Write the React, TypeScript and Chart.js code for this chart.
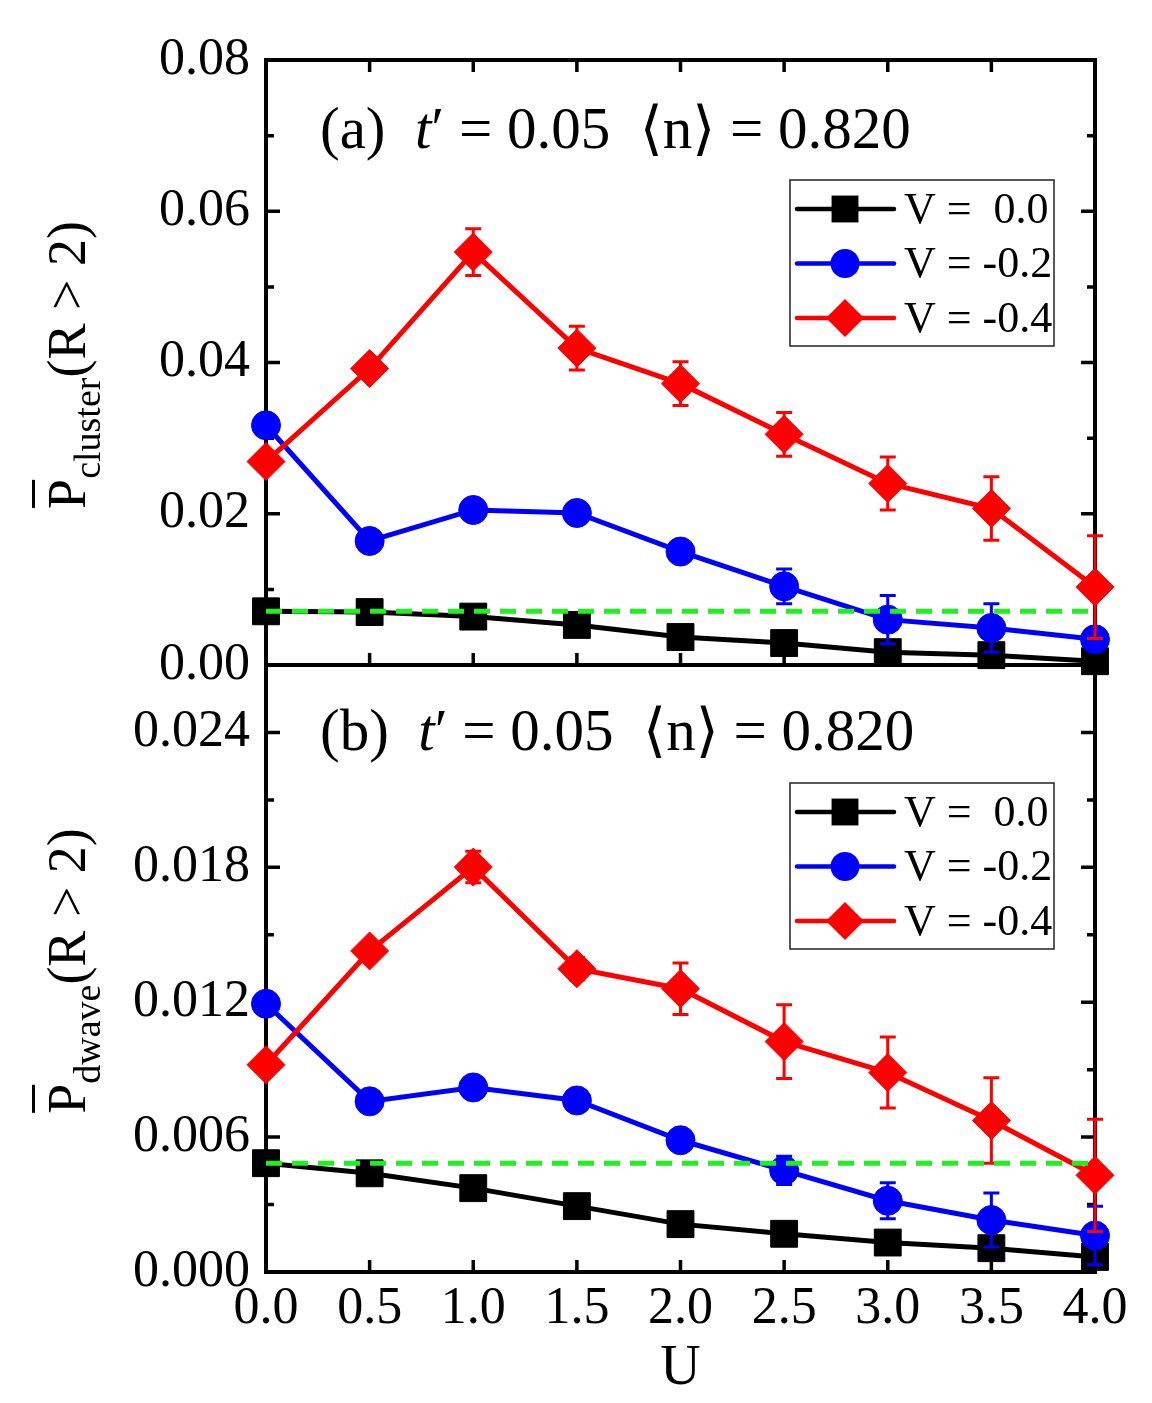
import React, { useEffect, useRef } from 'react';
import { Chart, registerables } from 'chart.js';

Chart.register(...registerables);

// ---------------- data ----------------
const U = [0, 0.5, 1.0, 1.5, 2.0, 2.5, 3.0, 3.5, 4.0];
const U_TICKS = [0, 0.5, 1.0, 1.5, 2.0, 2.5, 3.0, 3.5, 4.0];
const SERIES_NAMES = ['V =  0.0', 'V = -0.2', 'V = -0.4'];

// panel (a): P_cluster(R > 2)
const CLUSTER_V00 = [0.0071, 0.0070, 0.0064, 0.0053, 0.0037, 0.0029, 0.0017, 0.0013, 0.0005];
const CLUSTER_V00_ERR = [0.0012, 0.0012, 0.0012, 0.0012, 0.0012, 0.0012, 0.0012, 0.0012, 0.0012];
const CLUSTER_V02 = [0.0317, 0.0164, 0.0205, 0.0201, 0.0150, 0.0104, 0.0060, 0.0049, 0.0034];
const CLUSTER_V02_ERR = [0.0008, 0.0008, 0.0008, 0.0008, 0.0010, 0.0023, 0.0032, 0.0032, 0.0013];
const CLUSTER_V04 = [0.0269, 0.0392, 0.0546, 0.0419, 0.0372, 0.0305, 0.0240, 0.0207, 0.0103];
const CLUSTER_V04_ERR = [0.0008, 0.0008, 0.0031, 0.0029, 0.0029, 0.0029, 0.0035, 0.0042, 0.0068];
const CLUSTER_REF = 0.0071;
const CLUSTER_Y_TICKS = [0, 0.02, 0.04, 0.06, 0.08];

// panel (b): P_dwave(R > 2)
const DWAVE_V00 = [0.00484, 0.00439, 0.00373, 0.00293, 0.00213, 0.00170, 0.00131, 0.00106, 0.00067];
const DWAVE_V00_ERR = [0.0004, 0.0004, 0.0004, 0.0004, 0.0004, 0.0004, 0.0004, 0.0004, 0.0004];
const DWAVE_V02 = [0.01193, 0.00759, 0.00821, 0.00763, 0.00586, 0.00452, 0.00317, 0.00231, 0.00162];
const DWAVE_V02_ERR = [0.0002, 0.0002, 0.0002, 0.0002, 0.0003, 0.00063, 0.0008, 0.0012, 0.0013];
const DWAVE_V04 = [0.00922, 0.01428, 0.01801, 0.01349, 0.01260, 0.01025, 0.00887, 0.00674, 0.00430];
const DWAVE_V04_ERR = [0.0002, 0.0003, 0.0007, 0.0005, 0.00115, 0.00164, 0.00158, 0.0019, 0.0025];
const DWAVE_REF = 0.00484;
const DWAVE_Y_TICKS = [0, 0.006, 0.012, 0.018, 0.024];

// ---------------- style ----------------
const FONT = "'Liberation Serif', 'DejaVu Serif', serif";
const BLACK = '#000000';
const BLUE = '#0000ff';
const RED = '#ff0000';
const GREEN = '#22ee22';

function drawMarker(ctx: CanvasRenderingContext2D, style: string, x: number, y: number, r: number, color: string) {
  ctx.save();
  ctx.fillStyle = color;
  ctx.beginPath();
  if (style === 'rect') {
    const h = r * Math.SQRT1_2;
    ctx.rect(x - h, y - h, 2 * h, 2 * h);
  } else if (style === 'circle') {
    ctx.arc(x, y, r, 0, Math.PI * 2);
  } else {
    ctx.moveTo(x, y - r);
    ctx.lineTo(x + r, y);
    ctx.lineTo(x, y + r);
    ctx.lineTo(x - r, y);
    ctx.closePath();
  }
  ctx.fill();
  ctx.restore();
}

const errorBarPlugin = {
  id: 'errbars',
  beforeDatasetDraw(chart: any, args: any) {
    const ds = chart.data.datasets[args.index];
    if (!ds.errors) return;
    const ys = chart.scales.y;
    const ctx = chart.ctx as CanvasRenderingContext2D;
    ctx.save();
    ctx.strokeStyle = ds.borderColor;
    ctx.lineWidth = 3;
    ctx.beginPath();
    args.meta.data.forEach((pt: any, i: number) => {
      const e = ds.errors[i];
      const v = ds.data[i].y;
      const y1 = ys.getPixelForValue(v + e);
      const y2 = ys.getPixelForValue(v - e);
      ctx.moveTo(pt.x, y1);
      ctx.lineTo(pt.x, y2);
      ctx.moveTo(pt.x - 8, y1);
      ctx.lineTo(pt.x + 8, y1);
      ctx.moveTo(pt.x - 8, y2);
      ctx.lineTo(pt.x + 8, y2);
    });
    ctx.stroke();
    ctx.restore();
  },
};

const decorPlugin = {
  id: 'decor',
  beforeDatasetsDraw(chart: any, _a: any, o: any) {
    const ctx = chart.ctx as CanvasRenderingContext2D;
    const a = chart.chartArea;
    const xs = chart.scales.x;
    const ys = chart.scales.y;
    ctx.save();
    ctx.strokeStyle = '#000';
    ctx.lineWidth = 4;
    ctx.strokeRect(a.left, a.top, a.right - a.left, a.bottom - a.top);
    ctx.lineWidth = 3.5;
    ctx.beginPath();
    const majors: number[] = o.yTicks;
    const half = (majors[1] - majors[0]) / 2;
    const marks: { v: number; len: number }[] = [];
    majors.forEach((v) => {
      marks.push({ v, len: 14 });
      marks.push({ v: v + half, len: 8 });
    });
    for (const m of marks) {
      const py = ys.getPixelForValue(m.v);
      if (py <= a.top + 2 || py >= a.bottom - 2) continue;
      ctx.moveTo(a.left, py);
      ctx.lineTo(a.left + m.len, py);
      ctx.moveTo(a.right, py);
      ctx.lineTo(a.right - m.len, py);
    }
    for (const v of U_TICKS) {
      const px = xs.getPixelForValue(v);
      if (px <= a.left + 2 || px >= a.right - 2) continue;
      ctx.moveTo(px, a.bottom);
      ctx.lineTo(px, a.bottom - 12);
      if (o.topTicks) {
        ctx.moveTo(px, a.top);
        ctx.lineTo(px, a.top + 12);
      }
    }
    ctx.stroke();
    ctx.restore();
  },
  afterDraw(chart: any, _a: any, o: any) {
    const ctx = chart.ctx as CanvasRenderingContext2D;
    ctx.save();
    // legend
    const L = o.legend;
    ctx.fillStyle = '#fff';
    ctx.fillRect(L.left, L.top, L.width, L.height);
    ctx.strokeStyle = '#222';
    ctx.lineWidth = 1.5;
    ctx.strokeRect(L.left, L.top, L.width, L.height);
    const named = chart.data.datasets.filter((d: any) => SERIES_NAMES.includes(d.label));
    named.forEach((d: any, i: number) => {
      const cy = L.top + 29 + i * 54.5;
      ctx.strokeStyle = d.borderColor;
      ctx.lineWidth = 4.5;
      ctx.lineCap = 'round';
      ctx.beginPath();
      ctx.moveTo(L.left + 7, cy);
      ctx.lineTo(L.left + 104, cy);
      ctx.stroke();
      drawMarker(ctx, d.pointStyle, L.left + 55, cy, d.pointRadius, d.borderColor);
      ctx.fillStyle = '#000';
      ctx.font = `44px ${FONT}`;
      ctx.textBaseline = 'middle';
      ctx.textAlign = 'left';
      ctx.fillText(d.label, L.left + 114, cy + 2);
    });
    // annotation
    ctx.fillStyle = '#000';
    ctx.textBaseline = 'alphabetic';
    let x = o.annot.x;
    const segs = [
      { t: `${o.annot.tag}  `, it: false },
      { t: 't', it: true },
      { t: '\u2032 = 0.05  \u27E8n\u27E9 = 0.820', it: false },
    ];
    for (const s of segs) {
      ctx.font = `${s.it ? 'italic ' : ''}59px ${FONT}`;
      ctx.fillText(s.t, x, o.annot.y);
      x += ctx.measureText(s.t).width;
    }
    // y title
    ctx.translate(85, o.titleCY);
    ctx.rotate(-Math.PI / 2);
    const main = `54px ${FONT}`;
    const sub = `38px ${FONT}`;
    ctx.font = main;
    const wP = ctx.measureText('P').width;
    const tail = '(R > 2)';
    const wT = ctx.measureText(tail).width;
    ctx.font = sub;
    const wS = ctx.measureText(o.sub).width;
    const x0 = -(wP + wS + wT) / 2;
    ctx.font = main;
    ctx.fillText('P', x0, 0);
    ctx.fillRect(x0 + 1, -53, wP - 2, 3);
    ctx.font = sub;
    ctx.fillText(o.sub, x0 + wP, 15);
    ctx.font = main;
    ctx.fillText(tail, x0 + wP + wS, 0);
    ctx.restore();
  },
};

function series(name: string, vals: number[], errs: number[], color: string, style: string, r: number, order: number) {
  return {
    label: name,
    data: U.map((u, i) => ({ x: u, y: vals[i] })),
    errors: errs,
    borderColor: color,
    backgroundColor: color,
    pointBackgroundColor: color,
    pointBorderColor: color,
    borderWidth: 5,
    pointStyle: style,
    pointRadius: r,
    pointHoverRadius: r,
    pointBorderWidth: 1,
    tension: 0,
    clip: false,
    order,
  };
}

function refLine(v: number) {
  return {
    label: 'ref',
    data: [
      { x: U[0], y: v },
      { x: U[U.length - 1], y: v },
    ],
    borderColor: GREEN,
    borderWidth: 5,
    borderDash: [16, 10],
    pointRadius: 0,
    clip: false,
    order: 0,
  };
}

function makeConfig(p: any) {
  const xScale: any = {
    type: 'linear',
    min: 0,
    max: 4,
    display: p.showX,
    afterBuildTicks: (s: any) => {
      s.ticks = U_TICKS.map((v) => ({ value: v }));
    },
    ticks: {
      autoSkip: false,
      maxRotation: 0,
      padding: 6,
      color: '#000',
      font: { family: FONT, size: 52 },
      callback: (v: any) => Number(v).toFixed(1),
    },
    grid: { display: false, drawTicks: false },
    border: { display: false },
    title: {
      display: p.showX,
      text: 'U',
      color: '#000',
      font: { family: FONT, size: 56 },
      padding: { top: 0, bottom: 0 },
    },
  };
  if (p.showX) xScale.afterFit = (s: any) => { s.height = p.xHeight; };
  return {
    type: 'line',
    data: { datasets: p.datasets },
    options: {
      animation: false,
      responsive: false,
      events: [],
      layout: { padding: p.padding },
      scales: {
        x: xScale,
        y: {
          type: 'linear',
          min: 0,
          max: p.yMax,
          afterBuildTicks: (s: any) => {
            s.ticks = p.yTicks.map((v: number) => ({ value: v }));
          },
          afterFit: (s: any) => { s.width = 266; },
          ticks: {
            padding: 16,
            color: '#000',
            font: { family: FONT, size: 52 },
            callback: (v: any) => Number(v).toFixed(p.dec),
          },
          grid: { display: false, drawTicks: false },
          border: { display: false },
        },
      },
      plugins: {
        legend: { display: false },
        tooltip: { enabled: false },
        decor: p.decor,
      },
    },
    plugins: [decorPlugin, errorBarPlugin],
  };
}

export default function App() {
  const topRef = useRef<HTMLCanvasElement>(null);
  const botRef = useRef<HTMLCanvasElement>(null);

  useEffect(() => {
    const top = new Chart(topRef.current as HTMLCanvasElement, makeConfig({
      showX: false,
      padding: { top: 60, right: 57, bottom: 55, left: 0 },
      yMax: 0.08,
      yTicks: CLUSTER_Y_TICKS,
      dec: 2,
      datasets: [
        refLine(CLUSTER_REF),
        series(SERIES_NAMES[0], CLUSTER_V00, CLUSTER_V00_ERR, BLACK, 'rect', 19, 3),
        series(SERIES_NAMES[1], CLUSTER_V02, CLUSTER_V02_ERR, BLUE, 'circle', 14.5, 2),
        series(SERIES_NAMES[2], CLUSTER_V04, CLUSTER_V04_ERR, RED, 'rectRot', 19, 1),
      ],
      decor: {
        yTicks: CLUSTER_Y_TICKS,
        topTicks: true,
        legend: { left: 790, top: 180, width: 264, height: 166 },
        annot: { x: 320, y: 148, tag: '(a)' },
        sub: 'cluster',
        titleCY: 365,
      },
    }) as any);
    const bot = new Chart(botRef.current as HTMLCanvasElement, makeConfig({
      showX: true,
      xHeight: 131,
      padding: { top: 65, right: 57, bottom: 0, left: 0 },
      yMax: 0.027,
      yTicks: DWAVE_Y_TICKS,
      dec: 3,
      datasets: [
        refLine(DWAVE_REF),
        series(SERIES_NAMES[0], DWAVE_V00, DWAVE_V00_ERR, BLACK, 'rect', 19, 3),
        series(SERIES_NAMES[1], DWAVE_V02, DWAVE_V02_ERR, BLUE, 'circle', 14.5, 2),
        series(SERIES_NAMES[2], DWAVE_V04, DWAVE_V04_ERR, RED, 'rectRot', 19, 1),
      ],
      decor: {
        yTicks: DWAVE_Y_TICKS,
        topTicks: false,
        legend: { left: 790, top: 183, width: 264, height: 166 },
        annot: { x: 320, y: 150, tag: '(b)' },
        sub: 'dwave',
        titleCY: 371,
      },
    }) as any);
    return () => {
      top.destroy();
      bot.destroy();
    };
  }, []);

  return (
    <div style={{ position: 'absolute', left: 0, top: 0, width: 1152, height: 1403, background: '#fff', overflow: 'hidden' }}>
      <canvas ref={topRef} width={1152} height={720} style={{ position: 'absolute', left: 0, top: 0 }} />
      <canvas ref={botRef} width={1152} height={803} style={{ position: 'absolute', left: 0, top: 600 }} />
    </div>
  );
}
